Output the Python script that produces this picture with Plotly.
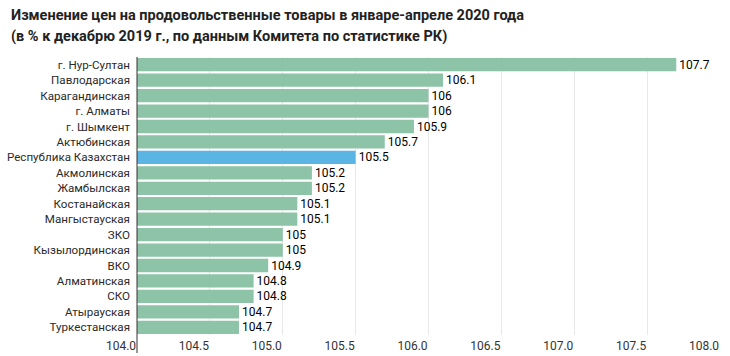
import plotly.graph_objects as go

regions = ["г. Нур-Султан", "Павлодарская", "Карагандинская", "г. Алматы", "г. Шымкент",
           "Актюбинская", "Республика Казахстан", "Акмолинская", "Жамбылская", "Костанайская",
           "Мангыстауская", "ЗКО", "Кызылординская", "ВКО", "Алматинская", "СКО",
           "Атырауская", "Туркестанская"]
values = [107.7, 106.1, 106.0, 106.0, 105.9, 105.7, 105.5, 105.2, 105.2, 105.1,
          105.1, 105.0, 105.0, 104.9, 104.8, 104.8, 104.7, 104.7]
value_labels = ["107.7", "106.1", "106", "106", "105.9", "105.7", "105.5", "105.2", "105.2",
                "105.1", "105.1", "105", "105", "104.9", "104.8", "104.8", "104.7", "104.7"]
highlight = "Республика Казахстан"
axis_base = 104.0
tick_vals = [104.0, 104.5, 105.0, 105.5, 106.0, 106.5, 107.0, 107.5, 108.0]
tick_text = ["104.0", "104.5", "105.0", "105.5", "106.0", "106.5", "107.0", "107.5", "108.0"]

GREEN = "#8dc3a6"
BLUE = "#5ab4e4"
colors = [BLUE if r == highlight else GREEN for r in regions]

W, H = 730, 356
L, R, T, B = 137, 10, 57, 21
PW, PH = W - L - R, H - T - B

fig = go.Figure(go.Bar(
    y=regions, x=[v - axis_base for v in values], base=axis_base, orientation="h",
    marker=dict(color=colors, line=dict(width=0)),
    text=value_labels, textposition="outside", cliponaxis=False, constraintext="none",
    textfont=dict(family="Roboto", size=12, color="#000000"),
    hoverinfo="skip",
))

fig.update_layout(
    width=W, height=H,
    margin=dict(l=L, r=R, t=T, b=B),
    paper_bgcolor="white", plot_bgcolor="white",
    font=dict(family="Roboto", size=12, color="#333333"),
    bargap=0.14,
    showlegend=False,
)
fig.add_annotation(text="<b>Изменение цен на продовольственные товары в январе-апреле 2020 года</b>",
                   xref="paper", yref="paper", x=-(L - 9) / PW, y=1 + (T - 15) / PH,
                   xanchor="left", yanchor="middle", showarrow=False,
                   font=dict(family="Roboto", size=14.5, color="#222222"))
fig.add_annotation(text="<b>(в % к декабрю 2019 г., по данным Комитета по статистике РК)</b>",
                   xref="paper", yref="paper", x=-(L - 9) / PW, y=1 + (T - 36) / PH,
                   xanchor="left", yanchor="middle", showarrow=False,
                   font=dict(family="Roboto", size=14.5, color="#222222"))

fig.update_xaxes(range=[104.0, 108.0], tickvals=tick_vals, ticktext=tick_text,
                 showgrid=True, gridcolor="#e8e8e8", gridwidth=1, zeroline=False,
                 ticks="", ticklabelshift=-16, ticklabelstandoff=2, automargin=False,
                 tickfont=dict(family="Roboto", size=12, color="#333333"),
                 fixedrange=True)
fig.update_yaxes(autorange="reversed", ticks="", showgrid=False,
                 ticklabelstandoff=6, automargin=False,
                 tickfont=dict(family="Roboto", size=11.6, color="#2a2a2a"),
                 fixedrange=True)
fig.add_shape(type="line", xref="paper", yref="paper", x0=0, x1=0, y0=1, y1=-(B - 3) / PH,
              line=dict(color="#333333", width=1))

fig.write_html("out.html", post_script="document.body.style.margin='0';",
               config={"displayModeBar": False})
